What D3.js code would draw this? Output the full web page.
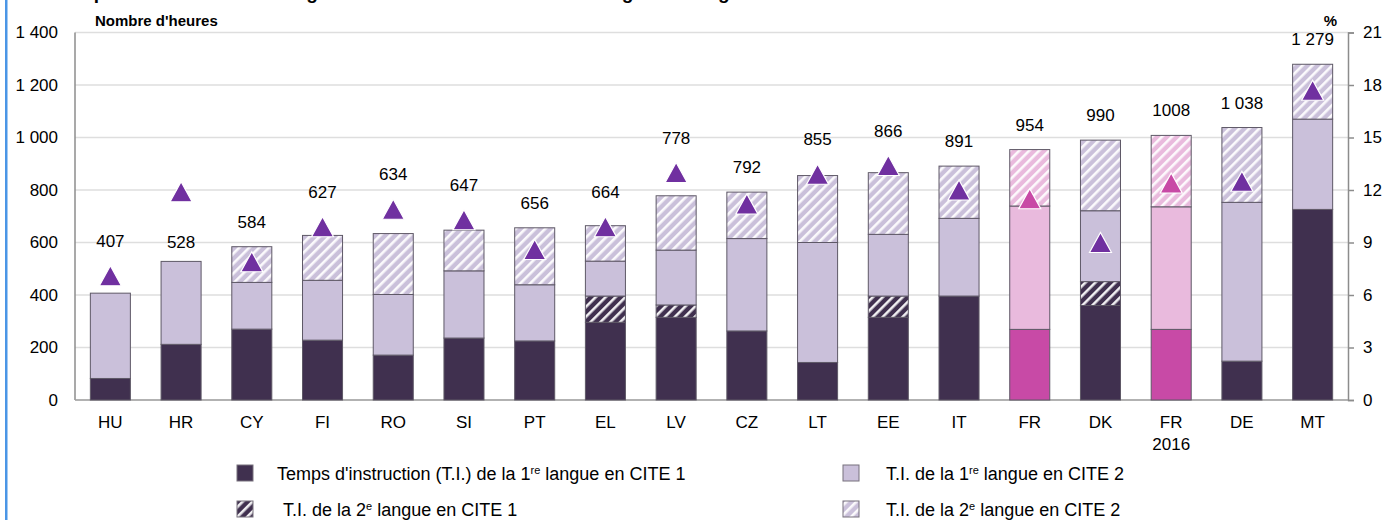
<!DOCTYPE html>
<html>
<head>
<meta charset="utf-8">
<script src="https://cdn.jsdelivr.net/npm/d3@7"></script>
<style>
	body { margin: 0; background: #fff; }
	svg { display: block; font-family: "Liberation Sans", Arial, sans-serif; }
</style>
</head>
<body>
<svg width="1395" height="520"></svg>
<script>
var categories = ["HU", "HR", "CY", "FI", "RO", "SI", "PT", "EL", "LV", "CZ", "LT", "EE", "IT", "FR", "DK", "FR 2016", "DE", "MT"];
var highlighted = ["FR", "FR 2016"];

// heures, par segment
var firstLangCite1 = [82, 212, 270, 228, 171, 236, 225, 296, 315, 263, 143, 315, 396, 269, 360, 269, 148, 726];
var secondLangCite1 = [0, 0, 0, 0, 0, 0, 0, 100, 47, 0, 0, 81, 0, 0, 91, 0, 0, 0];
var firstLangCite2 = [325, 316, 178, 228, 231, 256, 214, 133, 209, 352, 457, 235, 296, 470, 270, 467, 605, 344];
var secondLangCite2 = [0, 0, 136, 171, 232, 155, 217, 135, 207, 177, 255, 235, 199, 215, 269, 272, 285, 209];
var totalLabels = ["407", "528", "584", "627", "634", "647", "656", "664", "778", "792", "855", "866", "891", "954", "990", "1008", "1 038", "1 279"];

// % (axe de droite)
var percentages = [7.1, 11.9, 7.9, 9.9, 10.9, 10.3, 8.6, 9.9, 13.0, 11.2, 12.9, 13.4, 12.0, 11.5, 9.0, 12.4, 12.5, 17.7];

var leftTicks = [0, 200, 400, 600, 800, 1000, 1200, 1400];
var rightTicks = [0, 3, 6, 9, 12, 15, 18, 21];

var legendLabels = [
	["Temps d'instruction (T.I.) de la 1", "re", " langue en CITE 1"],
	["T.I. de la 1", "re", " langue en CITE 2"],
	["T.I. de la 2", "e", " langue en CITE 1"],
	["T.I. de la 2", "e", " langue en CITE 2"]
];

(function() {
	var svg = d3.select("svg");
	var pLeft = 75, pRight = 1348, pTop = 32.5, pBottom = 400;

	var fr = d3.formatLocale({ decimal: ",", thousands: "\u00a0", grouping: [3], currency: ["", ""] });
	var fmt = fr.format(",");

	var keys = ["s1", "s2", "s3", "s4"];
	var rows = categories.map(function(c, i) {
		return { cat: c, s1: firstLangCite1[i], s2: secondLangCite1[i], s3: firstLangCite2[i], s4: secondLangCite2[i], pct: percentages[i], label: totalLabels[i] };
	});
	rows.forEach(function(d) { d.total = d.s1 + d.s2 + d.s3 + d.s4; });

	var x = d3.scaleBand().domain(categories).range([pLeft, pRight]).paddingInner(0.434).paddingOuter(0.217);
	var y = d3.scaleLinear().domain([0, 1400]).range([pBottom, pTop]);
	var y2 = d3.scaleLinear().domain([0, 21]).range([pBottom, pTop]);

	// hachures
	var defs = svg.append("defs");
	function hatch(id, bg) {
		var p = defs.append("pattern")
			.attr("id", id)
			.attr("patternUnits", "userSpaceOnUse")
			.attr("width", 7).attr("height", 7)
			.attr("patternTransform", "rotate(45)");
		p.append("rect").attr("width", 7).attr("height", 7).attr("fill", bg);
		p.append("rect").attr("width", 2.6).attr("height", 7).attr("fill", "#fff").attr("opacity", 0.92);
	}
	hatch("hatchDark", "#40304f");
	hatch("hatchLight", "#cac0da");
	hatch("hatchPink", "#e9badd");
	hatch("hatchPinkDark", "#c84aa6");

	var fills = { s1: "#40304f", s2: "url(#hatchDark)", s3: "#cac0da", s4: "url(#hatchLight)" };
	var pinkFills = { s1: "#c84aa6", s2: "url(#hatchPinkDark)", s3: "#e9badd", s4: "url(#hatchPink)" };

	svg.append("rect").attr("width", 1395).attr("height", 520).attr("fill", "#fff");

	// bord bleu a gauche
	svg.append("rect").attr("x", 5).attr("y", 0).attr("width", 2.5).attr("height", 520).attr("fill", "#4b96e6");

	// titre (coupe en haut)
	svg.append("text")
		.attr("x", 56).attr("y", -1)
		.style("font-size", "19px").style("font-weight", "bold")
		.text("Temps d'instruction des langues en CITE 1 et CITE 2 et des langues étrangères");

	// grille
	svg.append("g").selectAll("line")
		.data(leftTicks)
		.enter().append("line")
		.attr("x1", pLeft).attr("x2", pRight)
		.attr("y1", function(d) { return y(d); })
		.attr("y2", function(d) { return y(d); })
		.style("stroke", "#dedede").style("stroke-width", 1.6);

	// axe gauche
	var gl = svg.append("g")
		.attr("transform", "translate(" + pLeft + ",0)")
		.call(d3.axisLeft(y).tickValues(leftTicks).tickFormat(fmt).tickSize(0).tickPadding(17));
	gl.select(".domain").remove();
	gl.selectAll("text").style("font-size", "17px").style("fill", "#000").style("font-family", "'Liberation Sans', Arial, sans-serif");

	// axe droit
	var gr = svg.append("g")
		.attr("transform", "translate(" + pRight + ",0)")
		.call(d3.axisRight(y2).tickValues(rightTicks).tickSize(6).tickPadding(9));
	gr.select(".domain").style("stroke", "#8c8c8c").style("stroke-width", 1.5);
	gr.selectAll(".tick line").style("stroke", "#8c8c8c").style("stroke-width", 1.5);
	gr.selectAll("text").style("font-size", "17px").style("fill", "#000").style("font-family", "'Liberation Sans', Arial, sans-serif");

	// lignes d'axes
	svg.append("line").attr("x1", pLeft).attr("x2", pLeft).attr("y1", pTop).attr("y2", pBottom)
		.style("stroke", "#8c8c8c").style("stroke-width", 1.5);
	svg.append("line").attr("x1", pLeft).attr("x2", pRight).attr("y1", pBottom).attr("y2", pBottom)
		.style("stroke", "#a0a0a0").style("stroke-width", 1.6);

	svg.append("text").attr("x", 95).attr("y", 26)
		.style("font-size", "15px").style("font-weight", "bold").text("Nombre d'heures");
	svg.append("text").attr("x", 1337).attr("y", 26).attr("text-anchor", "end")
		.style("font-size", "15px").style("font-weight", "bold").text("%");

	// barres empilees
	var series = d3.stack().keys(keys)(rows);
	svg.append("g").selectAll("g")
		.data(series)
		.enter().append("g")
		.selectAll("rect")
		.data(function(s) { return s.map(function(v) { v.key = s.key; return v; }).filter(function(v) { return v[1] - v[0] > 0; }); })
		.enter().append("rect")
		.attr("x", function(v) { return x(v.data.cat); })
		.attr("width", x.bandwidth())
		.attr("y", function(v) { return y(v[1]); })
		.attr("height", function(v) { return y(v[0]) - y(v[1]); })
		.style("fill", function(v) {
			return highlighted.indexOf(v.data.cat) >= 0 ? pinkFills[v.key] : fills[v.key];
		})
		.style("stroke", "#5e5866")
		.style("stroke-width", 1);

	// triangles (%)
	var tw = 22, th = 20;
	svg.append("g").selectAll("path")
		.data(rows)
		.enter().append("path")
		.attr("transform", function(d) { return "translate(" + (x(d.cat) + x.bandwidth() / 2) + "," + y2(d.pct) + ")"; })
		.attr("d", "M0," + (-th / 2) + "L" + (tw / 2) + "," + (th / 2) + "L" + (-tw / 2) + "," + (th / 2) + "Z")
		.style("fill", function(d) { return highlighted.indexOf(d.cat) >= 0 ? "#c84aa6" : "#7030a0"; })
		.style("stroke", "#fff")
		.style("stroke-width", 1.2);

	// totaux
	svg.append("g").selectAll("text")
		.data(rows)
		.enter().append("text")
		.attr("x", function(d) { return x(d.cat) + x.bandwidth() / 2; })
		.attr("y", function(d) {
			var barTop = y(d.total), triTop = y2(d.pct) - th / 2;
			if (triTop < barTop - 50) return barTop - 13;
			return Math.min(barTop, triTop) - 19;
		})
		.attr("text-anchor", "middle")
		.style("font-size", "17px")
		.text(function(d) { return d.label; });

	// categories
	svg.append("g").selectAll("text")
		.data(categories)
		.enter().append("text")
		.attr("x", function(d) { return x(d) + x.bandwidth() / 2; })
		.attr("y", 428)
		.attr("text-anchor", "middle")
		.style("font-size", "17px")
		.each(function(d) {
			var parts = d.split(" ");
			var t = d3.select(this);
			parts.forEach(function(p, i) {
				t.append("tspan").attr("x", x(d) + x.bandwidth() / 2).attr("dy", i ? 22 : 0).text(p);
			});
		});

	// legende
	var legendFills = [fills.s1, fills.s3, fills.s2, fills.s4];
	var legendPos = [[237, 465, 277], [843, 465, 886], [237, 501, 283], [843, 501, 886]];
	var lg = svg.append("g");
	legendLabels.forEach(function(lab, i) {
		var p = legendPos[i];
		lg.append("rect").attr("x", p[0]).attr("y", p[1]).attr("width", 16).attr("height", 16)
			.style("fill", legendFills[i]).style("stroke", "#77717d").style("stroke-width", 1);
		var t = lg.append("text").attr("x", p[2]).attr("y", p[1] + 15).style("font-size", "18px");
		t.append("tspan").text(lab[0]);
		t.append("tspan").attr("baseline-shift", "super").style("font-size", "11px").text(lab[1]);
		t.append("tspan").text(lab[2]);
	});
})();
</script>
</body>
</html>
